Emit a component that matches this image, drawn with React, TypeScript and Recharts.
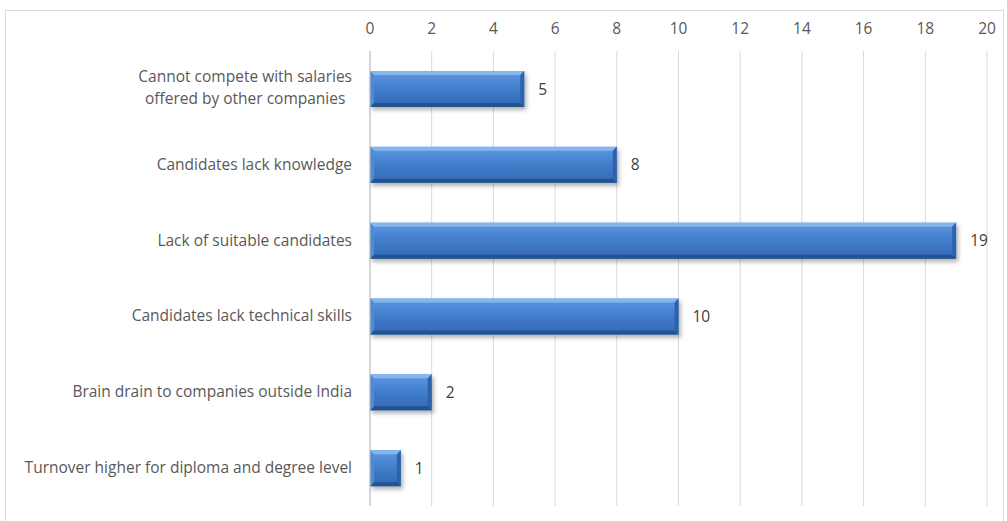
import React from 'react';
import {
  BarChart,
  Bar,
  XAxis,
  YAxis,
  CartesianGrid,
  LabelList,
} from 'recharts';

const categories = [
  'Cannot compete with salaries\noffered by other companies',
  'Candidates lack knowledge',
  'Lack of suitable candidates',
  'Candidates lack technical skills',
  'Brain drain to companies outside India',
  'Turnover higher for diploma and degree level',
];
const counts = [5, 8, 19, 10, 2, 1];
const xTicks = [0, 2, 4, 6, 8, 10, 12, 14, 16, 18, 20];

const data = categories.map((name, i) => ({ name, count: counts[i] }));

const FONT = '"Open Sans", Lato, sans-serif';
const FS = 15.5;

let ctx: CanvasRenderingContext2D | null = null;
const measure = (s: string) => {
  if (!ctx) ctx = document.createElement('canvas').getContext('2d');
  if (!ctx) return s.length * 7.5;
  ctx.font = `${FS}px ${FONT}`;
  return ctx.measureText(s).width;
};

const CategoryTick = (props: any) => {
  const { x, y, payload } = props;
  const lines = String(payload.value).split('\n');
  if (lines.length === 1) {
    return (
      <text x={x} y={y} dy={5} textAnchor="end" fill="#595959" fontSize={FS} fontFamily={FONT}>
        {lines[0]}
      </text>
    );
  }
  // excel centres wrapped lines against each other
  const w = Math.max(...lines.map(measure));
  const cx = x - w / 2;
  return (
    <text x={cx} y={y} textAnchor="middle" fill="#595959" fontSize={FS} fontFamily={FONT}>
      {lines.map((l, i) => (
        <tspan key={i} x={cx} dy={i === 0 ? -7 : 22}>
          {l}
        </tspan>
      ))}
    </text>
  );
};

const BevelBar = (props: any) => {
  const { x, y, width, height } = props;
  if (!width || width <= 0) return null;
  const b = Math.min(4, width / 3);
  return (
    <g filter="url(#barShadow)">
      <rect x={x} y={y} width={width} height={height} fill="url(#barBody)" />
      <polygon
        points={`${x},${y} ${x + width},${y} ${x + width - b},${y + b} ${x + b},${y + b}`}
        fill="#86b6ee"
      />
      <polygon
        points={`${x + width},${y} ${x + width},${y + height} ${x + width - b},${y + height - b} ${x + width - b},${y + b}`}
        fill="#2f63ab"
      />
      <polygon
        points={`${x},${y + height} ${x + width},${y + height} ${x + width - b},${y + height - b} ${x + b},${y + height - b}`}
        fill="#24538f"
      />
      <polygon
        points={`${x},${y} ${x + b},${y + b} ${x + b},${y + height - b} ${x},${y + height}`}
        fill="#4f8ad6"
      />
    </g>
  );
};

export default function App() {
  return (
    <div
      style={{
        position: 'absolute',
        left: 0,
        top: 0,
        width: 1007,
        height: 521,
        background: '#fff',
        overflow: 'hidden',
      }}
    >
      <div
        style={{
          position: 'absolute',
          left: 5,
          top: 10,
          width: 999,
          height: 520,
          border: '1px solid #d9d9d9',
          boxSizing: 'border-box',
        }}
      />
      <BarChart
        width={1007}
        height={521}
        data={data}
        layout="vertical"
        margin={{ top: 21, right: 20, bottom: 15, left: 0 }}
        barSize={36}
      >
        <defs>
          <linearGradient id="barBody" x1="0" y1="0" x2="0" y2="1">
            <stop offset="0%" stopColor="#5f9ae3" />
            <stop offset="45%" stopColor="#437fcd" />
            <stop offset="100%" stopColor="#3268b3" />
          </linearGradient>
          <filter id="barShadow" x="-10%" y="-20%" width="130%" height="160%">
            <feDropShadow dx="2" dy="3" stdDeviation="2" floodColor="#000" floodOpacity="0.3" />
          </filter>
        </defs>
        <CartesianGrid horizontal={false} stroke="#d9d9d9" />
        <XAxis
          type="number"
          orientation="top"
          domain={[0, 20]}
          ticks={xTicks}
          height={30}
          axisLine={false}
          tickLine={false}
          tickSize={0}
          tickMargin={17}
          tick={{ fill: '#595959', fontSize: FS, fontFamily: FONT }}
        />
        <YAxis
          type="category"
          dataKey="name"
          width={370}
          axisLine={{ stroke: '#bfbfbf' }}
          tickLine={false}
          tickSize={0}
          tickMargin={18}
          tick={<CategoryTick />}
          interval={0}
        />
        <Bar dataKey="count" shape={<BevelBar />} isAnimationActive={false}>
          <LabelList
            dataKey="count"
            position="right"
            offset={14}
            fill="#404040"
            fontSize={FS}
            fontFamily={FONT}
          />
        </Bar>
      </BarChart>
    </div>
  );
}
